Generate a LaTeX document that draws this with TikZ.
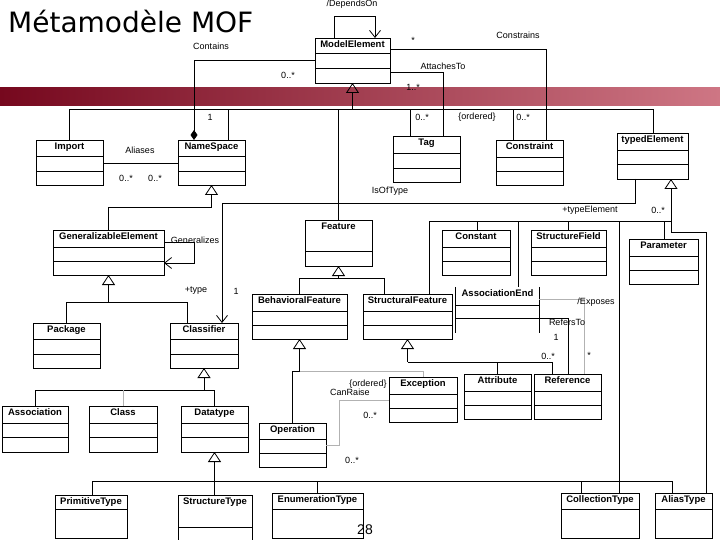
\documentclass[tikz,border=0pt]{standalone}
\usepackage{fontspec}
\setmainfont{Liberation Sans}
\newfontfamily\titlefont{DejaVu Sans}
\usetikzlibrary{arrows.meta,positioning,fit}

\definecolor{bandleft}{RGB}{118,8,30}
\definecolor{bandright}{RGB}{206,118,132}

\tikzset{
  clsbox/.style={draw, line width=0.8pt, inner sep=0pt, outer sep=0pt},
  clsname/.style={font=\fontsize{9.5}{11}\selectfont\bfseries, inner sep=2.8pt},
  link/.style={line width=0.8pt},
  faint/.style={link, draw=gray!60},
  lbl/.style={font=\fontsize{9}{10}\selectfont, inner sep=0.5pt},
  gen/.style={link, -{Triangle[open, length=10pt, width=13pt]}},
  nav/.style={link, -{Straight Barb[length=7pt, width=11pt]}},
  owns/.style={link, -{Diamond[length=10pt, width=7pt]}}
}

% class box: name, corners, title, divider heights
\newcommand{\umlclass}[7]{%
  \node[clsbox, fit={(#2,#3) (#4,#5)}] (#1) {};
  \node[clsname, anchor=north] (#1-title) at (#1.north) {#6};
  \foreach \d in {#7}
    \draw[line width=0.8pt] (#1.west |- 0,\d) -- (#1.east |- 0,\d);
}

\begin{document}
\begin{tikzpicture}[x=1pt, y=-1pt]
\useasboundingbox (0,0) rectangle (720,540);

% band
\shade[left color=bandleft, right color=bandright] (0,88) rectangle (720,106);

% title
\node[font=\titlefont\fontsize{28}{32}\selectfont, anchor=base west, inner sep=0pt] (title) at (8,33) {Métamodèle MOF};

% classes
\umlclass{ModelElement}{315}{38}{390}{83}{ModelElement}{53,68}
\umlclass{Import}{36}{140}{103}{185}{Import}{156,171}
\umlclass{NameSpace}{178}{140}{245}{185}{NameSpace}{156,171}
\umlclass{Tag}{393}{136}{460}{182}{Tag}{153,168}
\umlclass{Constraint}{496}{140}{563}{185}{Constraint}{157,171}
\umlclass{typedElement}{617}{133}{688}{179}{typedElement}{150,164}
\umlclass{GeneralizableElement}{53}{230}{164}{275}{GeneralizableElement}{247,261}
\umlclass{Package}{33}{323}{100}{368}{Package}{339,354}
\umlclass{Classifier}{170}{323}{238}{368}{Classifier}{339,354}
\umlclass{Feature}{305}{220}{372}{266}{Feature}{251}
\umlclass{BehavioralFeature}{252}{294}{347}{339}{BehavioralFeature}{311,325}
\umlclass{StructuralFeature}{363}{294}{452}{339}{StructuralFeature}{311,325}
\umlclass{Constant}{442}{230}{510}{275}{Constant}{247,261}
\umlclass{StructureField}{531}{230}{606}{275}{StructureField}{247,261}
\umlclass{Parameter}{629}{239}{698}{284}{Parameter}{256,270}
\umlclass{Attribute}{464}{374}{531}{419}{Attribute}{391,405}
\umlclass{Reference}{534}{374}{601}{419}{Reference}{391,405}
\umlclass{Exception}{389}{377}{457}{422}{Exception}{394,408}
\umlclass{Operation}{259}{423}{326}{467}{Operation}{439,453}
\umlclass{Association}{2}{406}{68}{452}{Association}{423,437}
\umlclass{Class}{89}{406}{157}{452}{Class}{423,437}
\umlclass{Datatype}{181}{406}{248}{452}{Datatype}{423,437}
\umlclass{PrimitiveType}{55}{495}{127}{538}{PrimitiveType}{509}
\umlclass{StructureType}{178}{495}{252}{548}{StructureType}{527}
\umlclass{EnumerationType}{272}{493}{363}{538}{EnumerationType}{509}
\umlclass{CollectionType}{561}{493}{639}{538}{CollectionType}{509}
\umlclass{AliasType}{655}{493}{712}{538}{AliasType}{509}

% AssociationEnd, open top and bottom
\node[fit={(456,287) (539,333)}, inner sep=0pt] (AssociationEnd) {};
\node[clsname, anchor=north] (AssociationEnd-title) at (AssociationEnd.north) {AssociationEnd};
\draw[link] (AssociationEnd.north west) -- (AssociationEnd.south west);
\draw[link] (AssociationEnd.north east) -- (AssociationEnd.south east);
\foreach \d in {305,318}
  \draw[link] (AssociationEnd.west |- 0,\d) -- (AssociationEnd.east |- 0,\d);

% generalizations
\draw[gen] (ModelElement.south |- 0,109) -- (ModelElement.south);
\foreach \n/\x in {Import/69, NameSpace/228, Tag/410, Constraint/513, typedElement/653, Feature/338}
  \draw[link] (\n.north -| \x,0) |- (ModelElement.south |- 0,109);

\draw[gen] (GeneralizableElement.north) -- ++(0,-23) -| (NameSpace.south);

\draw[gen] (GeneralizableElement.south |- 0,302) -- (GeneralizableElement.south);
\draw[link] (Package.north) |- (GeneralizableElement.south |- 0,302);
\draw[link] (Classifier.north -| 187,0) |- (GeneralizableElement.south |- 0,302);

\draw[gen] (Classifier.south |- 0,390) -- (Classifier.south);
\draw[link] (Association.north) |- (Classifier.south |- 0,390);
\draw[link] (Datatype.north) |- (Classifier.south |- 0,390);
\draw[faint] (Class.north) -- (Class.north |- 0,390);

\draw[gen] (Datatype.south |- 0,481) -- (Datatype.south);
\foreach \n/\x in {PrimitiveType/92, StructureType/214, EnumerationType/317, CollectionType/581, AliasType/672}
  \draw[link] (\n.north -| \x,0) |- (Datatype.south |- 0,481);

\draw[gen] (Feature.south |- 0,278) -- (Feature.south);
\draw[link] (BehavioralFeature.north) |- (Feature.south |- 0,278);
\draw[link] (StructuralFeature.north -| 384,0) |- (Feature.south |- 0,278);

\draw[gen] (BehavioralFeature.south |- 0,371) -- (BehavioralFeature.south);
\draw[link] (Operation.north) |- (BehavioralFeature.south |- 0,371);
\draw[faint] (Exception.north) |- (BehavioralFeature.south |- 0,371);

\draw[gen] (StructuralFeature.south |- 0,362) -- (StructuralFeature.south);
\draw[link] (Attribute.north) |- (StructuralFeature.south |- 0,362);
\draw[link] (Reference.north -| 552,0) |- (StructuralFeature.south |- 0,362);

\coordinate (te-fork) at (671,221);
\draw[gen] (AliasType.north -| 706,0) |- (671,232) -- (typedElement.south -| 671,0);
\foreach \n/\x in {StructuralFeature/429, Constant/477, AssociationEnd/518, StructureField/568, CollectionType/619, Parameter/664}
  \draw[link] (\n.north -| \x,0) |- (te-fork);

% associations
\draw[nav] (ModelElement.north -| 334,0) -- ++(0,-22) -| (ModelElement.north -| 375,0);
\draw[owns] (ModelElement.west |- 0,60) -| (NameSpace.north -| 194,0);
\draw[link] (ModelElement.east |- 0,49) -| (Constraint.north -| 546,0);
\draw[link] (ModelElement.east |- 0,72) -| (Tag.north -| 443,0);
\draw[link] (Import.east |- 0,163) -- (NameSpace.west |- 0,163);
\draw[nav] (typedElement.south -| 635,0) -- ++(0,24) -| (Classifier.north -| 222,0);
\draw[nav] (GeneralizableElement.east |- 0,242) -- ++(30,0) |- (GeneralizableElement.east |- 0,263);
\draw[faint] (Operation.east |- 0,445) -- ++(13,0) |- (Exception.west |- 0,400);
\draw[link] (AssociationEnd.east |- 0,318) -| (Reference.north -| 568,0);
\draw[faint] (AssociationEnd.east |- 0,299) -| (Reference.north -| 584,0);

% labels
\node[lbl] (l-dependson) at (352,4) {/DependsOn};
\node[lbl] (l-contains) at (211,46) {Contains};
\node[lbl] (l-contains-m) at (288,75) {0..*};
\node[lbl] (l-contains-1) at (210,117) {1};
\node[lbl] (l-constrains-m) at (413,40) {*};
\node[lbl] (l-constrains) at (518,35) {Constrains};
\node[lbl] (l-attaches) at (443,66) {AttachesTo};
\node[lbl] (l-attaches-m) at (413,87) {1..*};
\node[lbl] (l-tag-m) at (422,117) {0..*};
\node[lbl] (l-ordered) at (477,117) {\{ordered\}};
\node[lbl] (l-constraint-m) at (523,117) {0..*};
\node[lbl] (l-aliases) at (140,150) {Aliases};
\node[lbl] (l-aliases-a) at (126,178) {0..*};
\node[lbl] (l-aliases-b) at (155,178) {0..*};
\node[lbl] (l-isoftype) at (390,191) {IsOfType};
\node[lbl] (l-typeelem) at (590,210) {+typeElement};
\node[lbl] (l-typeelem-m) at (658,210) {0..*};
\node[lbl] (l-generalizes) at (195,240) {Generalizes};
\node[lbl] (l-type) at (196,291) {+type};
\node[lbl] (l-type-1) at (236,291) {1};
\node[lbl] (l-exposes) at (596,302) {/Exposes};
\node[lbl] (l-refersto) at (567,322) {RefersTo};
\node[lbl] (l-refersto-1) at (556,337) {1};
\node[lbl] (l-refersto-m) at (548,356) {0..*};
\node[lbl] (l-exposes-m) at (589,355) {*};
\node[lbl] (l-canraise-o) at (368,384) {\{ordered\}};
\node[lbl] (l-canraise) at (350,392) {CanRaise};
\node[lbl] (l-canraise-a) at (370,415) {0..*};
\node[lbl] (l-canraise-b) at (352,460) {0..*};
\node[font=\fontsize{14}{16}\selectfont] (pagenum) at (365,530) {28};
\end{tikzpicture}
\end{document}
